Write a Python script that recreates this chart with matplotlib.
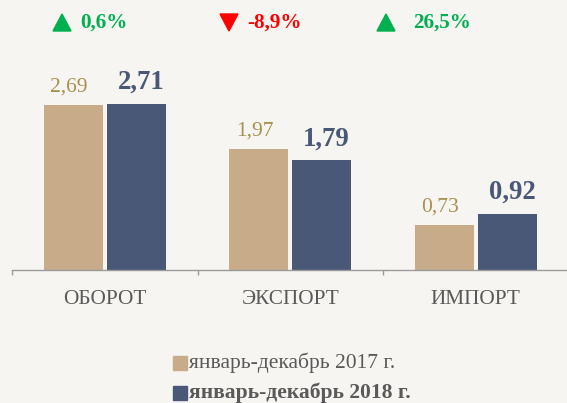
import matplotlib
matplotlib.use("Agg")
import matplotlib.pyplot as plt
from matplotlib.patches import Polygon, Rectangle
import numpy as np

categories = ["ОБОРОТ", "ЭКСПОРТ", "ИМПОРТ"]
series_names = ["январь-декабрь 2017 г.", "январь-декабрь 2018 г."]
values_2017 = [2.69, 1.97, 0.73]
values_2018 = [2.71, 1.79, 0.92]
changes = ["0,6%", "-8,9%", "26,5%"]
change_up = [True, False, True]

BG = "#F7F5F1"
C17 = "#C8AC8A"
C18 = "#4A5877"
LBL17 = "#A8904F"
GREEN = "#00B050"
RED = "#FF0000"
GRAY = "#595959"
SERIF = ["Liberation Serif", "DejaVu Serif"]

W, H = 567, 403
fig = plt.figure(figsize=(W / 100, H / 100), dpi=100, facecolor=BG)

# main axes: baseline at y=270px, left at x=12px, category spacing 185.5px
ax_left, ax_bottom_px, ax_top_px = 12, 270, 40
ax = fig.add_axes([ax_left / W, (H - ax_bottom_px) / H, 556.5 / W, (ax_bottom_px - ax_top_px) / H])
ax.set_facecolor(BG)
ax.set_xlim(-0.5, 2.5)
ax.set_ylim(0, (ax_bottom_px - ax_top_px) / 61.4)

x = np.arange(len(categories))
bw = 0.318
off = 0.17
b1 = ax.bar(x - off, values_2017, bw, color=C17, zorder=2)
b2 = ax.bar(x + off, values_2018, bw, color=C18, zorder=2)

def fmt(v):
    return f"{v:.2f}".replace(".", ",")

for xi, v in zip(x, values_2017):
    ax.annotate(fmt(v), (xi - off, v), xytext=(-3, 9.5), textcoords="offset points",
                ha="center", va="baseline", fontsize=15.5, color=LBL17, family=SERIF)
for xi, v in zip(x, values_2018):
    ax.annotate(fmt(v), (xi + off, v), xytext=(3.5, 10.5), textcoords="offset points",
                ha="center", va="baseline", fontsize=19.3, color=C18, family=SERIF,
                fontweight="bold")

for s in ["top", "right", "left"]:
    ax.spines[s].set_visible(False)
ax.spines["bottom"].set_color("#9A9A9A")
ax.spines["bottom"].set_linewidth(1.0)
ax.set_yticks([])
ax.set_xticks([-0.5, 0.5, 1.5, 2.5], minor=False)
ax.set_xticklabels([])
ax.tick_params(axis="x", length=3.5, color="#9A9A9A", width=1.0)
for xi, c in zip(x, categories):
    ax.text(xi, -29 / 61.4, c, ha="center", va="center", fontsize=15.3,
            color=GRAY, family=SERIF)

# overlay in pixel coordinates for header indicators and legend
ov = fig.add_axes([0, 0, 1, 1], facecolor="none")
ov.set_xlim(0, W)
ov.set_ylim(H, 0)
ov.axis("off")

tri_x = [53, 220, 377]
txt_x = [80, 247, 413]
for tx, lx, up, ch in zip(tri_x, txt_x, change_up, changes):
    col = GREEN if up else RED
    if up:
        pts = [(tx, 31), (tx + 18, 31), (tx + 9, 14)]
    else:
        pts = [(tx, 14), (tx + 18, 14), (tx + 9, 31)]
    ov.add_patch(Polygon(pts, closed=True, color=col))
    ov.text(lx, 23, ch, ha="left", va="center", fontsize=15.2, color=col,
            family=SERIF, fontweight="bold")

leg_y = [363, 393]
for ly, name, col, bold in zip(leg_y, series_names, [C17, C18], [False, True]):
    ov.add_patch(Rectangle((173, ly - 7), 14, 14, color=col))
    ov.text(189, ly, name, ha="left", va="center", fontsize=15.5, color=GRAY,
            family=SERIF, fontweight="bold" if bold else "normal")

fig.savefig("out.png", dpi=100, facecolor=BG)
